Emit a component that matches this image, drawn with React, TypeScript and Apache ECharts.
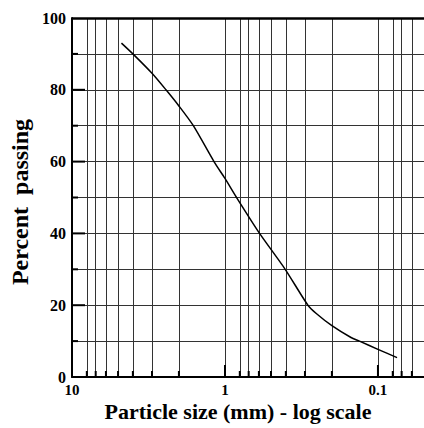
import React, { useEffect, useRef } from "react";
import * as echarts from "echarts";

const sizes = [4.75, 4, 3, 2.43, 2, 1.61, 1.18, 1.0, 0.84, 0.594, 0.404, 0.287, 0.253, 0.2, 0.15, 0.132, 0.1, 0.075];
const passing = [93, 90, 84.6, 80, 75.5, 70, 60, 55.3, 50, 40, 30, 20, 17.7, 14.3, 11, 10, 7.7, 5.4];

const xLabels = [10, 1, 0.1];
const xGrid = [8, 7, 6, 5, 4, 3, 2, 1, 0.8, 0.7, 0.6, 0.5, 0.4, 0.3, 0.2, 0.1, 0.08, 0.07, 0.06];
const xMajorTicks = [1, 0.1];
const yGrid = [10, 20, 30, 40, 50, 60, 70, 80, 90];
const yMajorTicks = [20, 40, 60, 80];
const xTitle = "Particle size (mm) - log scale";
const yTitle = "Percent  passing";

export default function App() {
  const ref = useRef<HTMLDivElement>(null);
  useEffect(() => {
    if (!ref.current) return;
    const chart = echarts.init(ref.current, null, { renderer: "svg" });
    const font = "'Liberation Serif', 'DejaVu Serif', serif";
    const tickData: number[][] = [];
    xGrid.forEach((v) => {
      const len = xMajorTicks.includes(v) ? 12 : 6;
      tickData.push([v, 0, 0, -len]);
    });
    yGrid.forEach((p) => {
      const len = yMajorTicks.includes(p) ? 13 : 6;
      tickData.push([10, p, len, 0]);
    });
    chart.setOption({
      animation: false,
      backgroundColor: "#fff",
      grid: { left: 72, top: 18, right: 0, bottom: 51 },
      graphic: [
        {
          type: "text",
          x: 238,
          y: 411,
          silent: true,
          style: {
            text: xTitle,
            fontFamily: font,
            fontWeight: "bold",
            fontSize: 22,
            lineHeight: 19,
            fill: "#000",
            align: "center",
            verticalAlign: "middle",
          },
        },
        {
          type: "text",
          x: 20,
          y: 202,
          rotation: Math.PI / 2,
          silent: true,
          style: {
            text: yTitle,
            fontFamily: font,
            fontWeight: "bold",
            fontSize: 24,
            fill: "#000",
            align: "center",
            verticalAlign: "middle",
          },
        },
      ],
      xAxis: {
        type: "log",
        logBase: 10,
        min: 0.05,
        max: 10,
        inverse: true,
        axisLine: { show: true, onZero: false, lineStyle: { color: "#000", width: 2 } },
        axisTick: { show: false },
        splitLine: { show: false },
        minorSplitLine: { show: false },
        axisLabel: {
          customValues: xLabels,
          formatter: (v: number) => String(v),
          fontFamily: font,
          fontWeight: "bold",
          fontSize: 15,
          lineHeight: 14,
          color: "#000",
          margin: 6,
        },
      },
      yAxis: {
        type: "value",
        min: 0,
        max: 100,
        interval: 20,
        axisLine: { show: true, onZero: false, lineStyle: { color: "#000", width: 2 } },
        axisTick: { show: false },
        splitLine: { show: false },
        axisLabel: {
          fontFamily: font,
          fontWeight: "bold",
          fontSize: 16,
          color: "#000",
          margin: 6,
        },
      },
      series: [
        {
          type: "line",
          data: sizes.map((s, i) => [s, passing[i]]),
          symbol: "none",
          smooth: 0.25,
          lineStyle: { color: "#000", width: 1.5 },
          z: 5,
          markLine: {
            silent: true,
            symbol: ["none", "none"],
            label: { show: false },
            lineStyle: { color: "#333", width: 1, type: "solid" },
            data: [
              ...xGrid.map((v) => ({ xAxis: v })),
              ...yGrid.map((v) => ({ yAxis: v })),
              { yAxis: 100, lineStyle: { color: "#000", width: 2.5, type: "solid" } },
            ],
          },
        },
        {
          type: "custom",
          data: tickData,
          z: 6,
          silent: true,
          renderItem: (params: any, api: any) => {
            const pt = api.coord([api.value(0), api.value(1)]);
            const dx = api.value(2);
            const dy = api.value(3);
            return {
              type: "line",
              shape: { x1: pt[0], y1: pt[1], x2: pt[0] + dx, y2: pt[1] + dy },
              style: { stroke: "#000", lineWidth: 2 },
            };
          },
        },
      ],
    });
    return () => chart.dispose();
  }, []);
  return (
    <div
      ref={ref}
      style={{ position: "fixed", left: 0, top: 0, width: 424, height: 428, background: "#fff" }}
    />
  );
}
